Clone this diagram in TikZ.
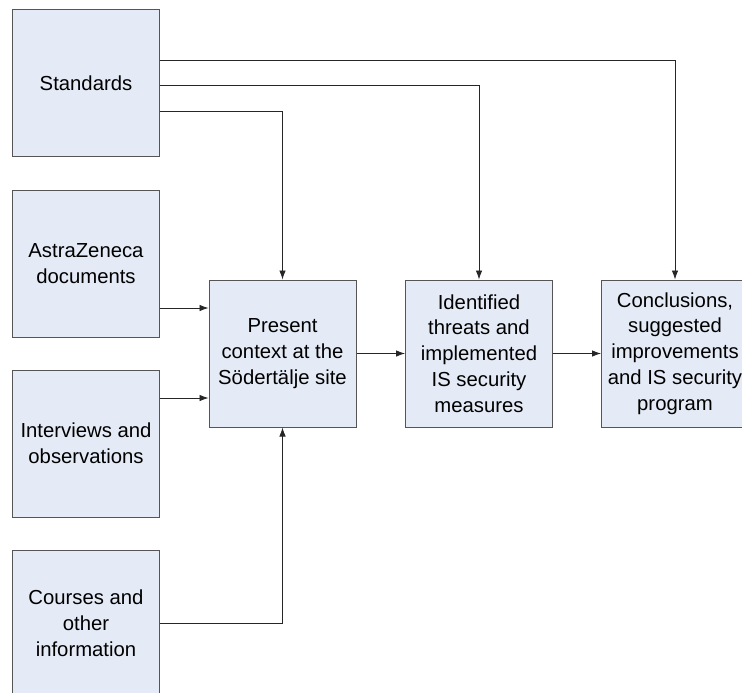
\documentclass[tikz,border=0pt]{standalone}
\usepackage{fontspec}
\setmainfont{Liberation Sans}
\usetikzlibrary{arrows.meta,calc}
\definecolor{boxfill}{HTML}{E5EBF6}
\definecolor{boxline}{HTML}{555555}
\begin{document}
\begin{tikzpicture}[x=1pt,y=-1pt,
  block/.style={draw=boxline,fill=boxfill,line width=1pt,minimum width=147pt,minimum height=147pt,
    inner sep=0pt,align=center,font=\fontsize{20.3}{25.8}\selectfont},
  arr/.style={draw=black!85,line width=0.8pt,-{Latex[length=9pt,width=6.5pt]}}]
\useasboundingbox (0,0) rectangle (742,693);
\clip (0,0) rectangle (742,693);
% source boxes on the left
\node[block] (std) at (86,83) {Standards};
\node[block] (astra) at (86,263.5) {AstraZeneca\\documents};
\node[block] (inter) at (86,443.5) {Interviews and\\observations};
\node[block] (course) at (86,623.5) {Courses and\\other\\information};
% main chain
\node[block] (present) at (282.5,353.5) {Present\\context at the\\Södertälje site};
\node[block] (ident) at (479,353.5) {Identified\\threats and\\implemented\\IS security\\measures};
\node[block] (concl) at (675,353.5) {Conclusions,\\suggested\\improvements\\and IS security\\program};
% standards feed every stage
\draw[arr] ($(std.east)+(0,-23)$) -| (concl.north);
\draw[arr] ($(std.east)+(0,2)$) -| (ident.north);
\draw[arr] ($(std.east)+(0,28)$) -| (present.north);
% inputs to the present context
\coordinate (pin1) at ($(present.west)+(0,-45.5)$);
\coordinate (pin2) at ($(present.west)+(0,44.5)$);
\draw[arr] (astra.east |- pin1) -- (pin1);
\draw[arr] (inter.east |- pin2) -- (pin2);
\draw[arr] (course.east) -| (present.south);
% chain arrows
\draw[arr] (present.east) -- (ident.west);
\draw[arr] (ident.east) -- (concl.west);
\end{tikzpicture}
\end{document}
